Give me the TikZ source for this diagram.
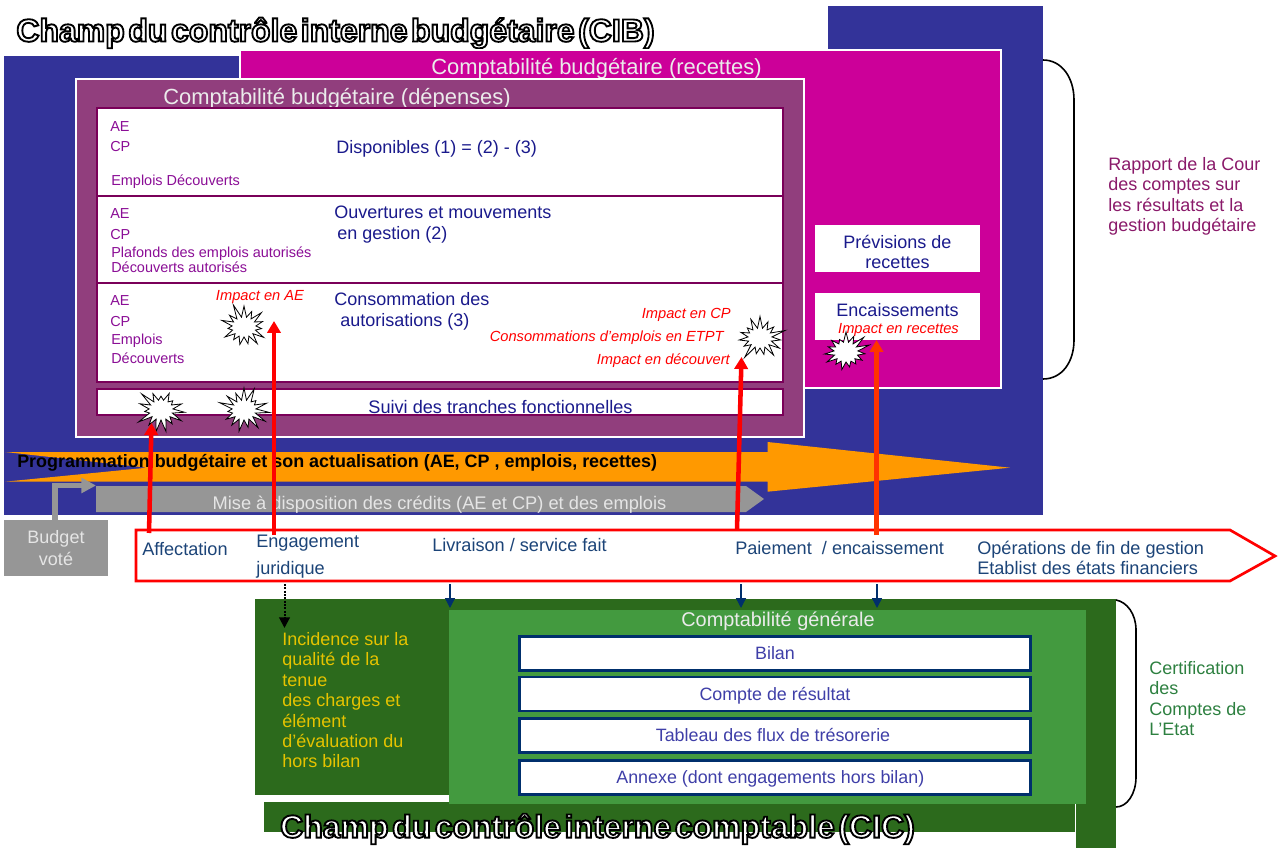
\documentclass[tikz,border=0pt]{standalone}
\usepackage{fontspec}
\setmainfont{Liberation Sans}
\newfontfamily\titlefont[WordSpace=0.4]{Liberation Sans}
\usetikzlibrary{arrows.meta, shapes.symbols}
\definecolor{cibblue}{RGB}{51, 51, 153}
\definecolor{recmagenta}{RGB}{204, 0, 153}
\definecolor{depplum}{RGB}{145, 62, 125}
\definecolor{rowplum}{RGB}{122, 0, 89}
\definecolor{labelpurple}{RGB}{139, 14, 150}
\definecolor{navytxt}{RGB}{26, 26, 140}
\definecolor{flowtxt}{RGB}{28, 68, 120}
\definecolor{progorange}{RGB}{255, 153, 0}
\definecolor{dispgrey}{RGB}{150, 150, 150}
\definecolor{cicdark}{RGB}{44, 106, 28}
\definecolor{ciclight}{RGB}{67, 154, 63}
\definecolor{tabnavy}{RGB}{0, 47, 108}
\definecolor{tabtxt}{RGB}{63, 63, 168}
\definecolor{incyellow}{RGB}{230, 195, 0}
\definecolor{rapporttxt}{RGB}{138, 26, 106}
\definecolor{certtxt}{RGB}{45, 128, 64}
\definecolor{encred}{RGB}{255, 51, 0}
\newcommand{\sized}[1]{\fontsize{#1}{#1}\selectfont}
\newcommand{\outlined}[1]{\special{pdf:code q 2 Tr 1.4 w 0 0 0 RG 1 1 1 rg}#1\special{pdf:code Q}}
\tikzset{
  txt/.style={inner sep=0pt, text height=.92em, text depth=0pt},
  wtxt/.style={txt, anchor=west},
  sidetxt/.style={inner sep=0pt, anchor=north west, align=left, font=\sized{13.5}\linespread{1.135}\selectfont},
  alabel/.style={wtxt, text height=.8em, text=labelpurple, font=\sized{10.85}},
  dtxt/.style={wtxt, text=navytxt, font=\sized{13.5}},
  impact/.style={txt, text=red, font=\sized{11}\itshape},
  flow/.style={wtxt, text=flowtxt, font=\sized{13.6}},
  headtxt/.style={txt, text=white!92!black, font=\sized{16.45}},
  rowbox/.style={draw=rowplum, line width=1.5pt, fill=white},
  tabbox/.style={draw=tabnavy, line width=1.9pt, fill=white, inner sep=0pt, minimum width=383pt, minimum height=25.5pt, text height=.92em, text depth=0pt, text=tabtxt, font=\sized{13.4}},
  burst/.style={starburst, starburst points=15, starburst point height=11pt, random starburst=#1, draw=black, fill=white, line width=.6pt, inner sep=0pt, minimum width=40pt, minimum height=37pt},
  upred/.style={red, line width=3.4pt, -{Triangle[width=10pt, length=9pt]}},
  downblue/.style={tabnavy, line width=1.1pt, -{Triangle[width=7.5pt, length=7.5pt]}},
  bracket/.style={black, line width=1.2pt},
  titletxt/.style={inner sep=0pt, font=\titlefont\sized{24}\bfseries}
}

\begin{document}
\begin{tikzpicture}[x=0.75pt, y=-0.75pt]
  \useasboundingbox (0, 0) rectangle (1278, 848);

  % Champ CIB
  \fill[cibblue] (4, 56) rectangle (1043, 515);
  \fill[cibblue] (828, 6) rectangle (1043, 56);
  \node[titletxt] (titlecib) at (335.5, 33) {\outlined{Champ du contrôle interne budgétaire (CIB)}};

  % Recettes
  \draw[fill=recmagenta, draw=white, line width=1.5pt] (240, 50.5) rectangle (1001, 388);
  \node[headtxt] (headrec) at (596.5, 68) {Comptabilité budgétaire (recettes)};
  \fill[white] (815, 225) rectangle (980, 272);
  \node[txt, text=navytxt, font=\sized{13.5}] (previsions) at (897.5, 242) {Prévisions de};
  \node[txt, text=navytxt, font=\sized{13.5}] (recettes) at (897.5, 262) {recettes};
  \fill[white] (815, 293) rectangle (980, 340);
  \node[txt, text=navytxt, font=\sized{13.5}] (encaissements) at (897.5, 310) {Encaissements};
  \node[impact] (impactrec) at (898.5, 327) {Impact en recettes};
  \node[burst=31] (burste) at (846, 352) {};

  % Depenses
  \draw[fill=depplum, draw=white, line width=1.5pt] (76, 79) rectangle (803.5, 437);
  \node[headtxt] (headdep) at (337, 98) {Comptabilité budgétaire (dépenses)};
  \draw[rowbox] (97, 108) rectangle (783, 196);
  \draw[rowbox] (97, 196) rectangle (783, 283);
  \draw[rowbox] (97, 283) rectangle (783, 382);
  \draw[rowbox] (97, 389) rectangle (783, 415);

  \node[alabel] (aeone) at (110, 126) {AE};
  \node[alabel] (cpone) at (110, 146) {CP};
  \node[alabel] (emploisone) at (111, 180) {Emplois Découverts};
  \node[dtxt] (disponibles) at (336, 147) {Disponibles (1) = (2) - (3)};

  \node[alabel] (aetwo) at (110, 213) {AE};
  \node[alabel] (cptwo) at (110, 234) {CP};
  \node[alabel] (plafonds) at (111, 252) {Plafonds des emplois autorisés};
  \node[alabel] (decouvtwo) at (111, 267) {Découverts autorisés};
  \node[dtxt] (ouvertures) at (334, 212) {Ouvertures et mouvements};
  \node[dtxt] (engestion) at (337, 233) {en gestion (2)};

  \node[alabel] (aethree) at (110, 300) {AE};
  \node[alabel] (cpthree) at (110, 321) {CP};
  \node[alabel] (emploisthree) at (111, 339) {Emplois};
  \node[alabel] (decouvthree) at (111, 358) {Découverts};
  \node[dtxt] (consommation) at (334, 299) {Consommation des};
  \node[dtxt] (autorisations) at (340, 320) {autorisations (3)};

  \node[impact] (impactae) at (260, 294) {Impact en AE};
  \node[impact, anchor=east] (impactcp) at (731, 312) {Impact en CP};
  \node[impact, anchor=east] (impactetpt) at (724, 335) {Consommations d’emplois en ETPT};
  \node[impact, anchor=east] (impactdec) at (730, 358) {Impact en découvert};

  \node[txt, text=navytxt, font=\sized{13.6}] (suivi) at (500.5, 407) {Suivi des tranches fonctionnelles};

  \node[burst=11] (burstb) at (244, 327) {};
  \node[burst=23] (bursta) at (161, 410) {};
  \node[burst=37] (burstc) at (244, 410) {};
  \node[burst=47] (burstd) at (760, 338) {};

  % Programmation et mise a disposition
  \fill[progorange] (5, 452) -- (767.5, 452) -- (767.5, 442) -- (1010, 467.7)
    -- (767.5, 491.7) -- (767.5, 481.7) -- (5, 481.7) -- (147, 467.7) -- cycle;
  \node[wtxt, text=black, font=\sized{13.45}\bfseries] (programmation) at (17, 461)
    {Programmation budgétaire et son actualisation (AE, CP , emplois, recettes)};
  \fill[dispgrey] (96, 486) -- (746, 486) -- (764, 499) -- (746, 512) -- (96, 512) -- cycle;
  \node[txt, text=white!90!black, font=\sized{13.7}] (mise) at (439.5, 503)
    {Mise à disposition des crédits (AE et CP) et des emplois};

  % Budget vote
  \node[fill=dispgrey, inner sep=0pt, minimum width=78pt, minimum height=42pt, align=center,
    text=white!90!black, font=\sized{13.5}] (budget) at (56, 548) {Budget\\[3pt]voté};
  \coordinate (misestart) at (96, 485.5);
  \draw[dispgrey, line width=4pt, -{Triangle[width=11pt, length=11pt]}]
    (budget.north -| 55, 520) |- (misestart);

  % Chaine de la depense
  \draw[red, line width=2pt, fill=white] (136, 530) -- (1230, 530) -- (1275, 556)
    -- (1230, 581) -- (136, 581) -- cycle;
  \node[flow] (affectation) at (142, 549) {Affectation};
  \node[flow] (engagement) at (256, 541) {Engagement};
  \node[flow] (juridique) at (256, 568) {juridique};
  \node[flow] (livraison) at (432, 545) {Livraison / service fait};
  \node[flow] (paiement) at (735, 548) {Paiement \ / encaissement};
  \node[flow] (operations) at (977, 548) {Opérations de fin de gestion};
  \node[flow] (etablist) at (977, 568) {Etablist des états financiers};

  % Champ CIC
  \fill[cicdark] (255, 599) rectangle (1116, 795);
  \fill[cicdark] (264, 802) rectangle (1075, 832);
  \fill[cicdark] (1076, 795) rectangle (1116, 848);
  \fill[ciclight] (449, 610) rectangle (1086, 803.5);
  \node[headtxt, font=\sized{14.9}] (headgen) at (778, 620) {Comptabilité générale};
  \node[tabbox] (bilan) at (775, 653.5) {Bilan};
  \node[tabbox] (compte) at (775, 694) {Compte de résultat};
  \node[tabbox] (tableau) at (775, 735.5) {Tableau des flux de trésorerie\rule{3pt}{0pt}};
  \node[tabbox] (annexe) at (775, 777.5) {Annexe (dont engagements hors bilan)\rule{7pt}{0pt}};
  \node[sidetxt, text=incyellow] (incidence) at (282, 632)
    {Incidence sur la\\qualité de la\\tenue\\des charges et\\élément\\d'évaluation du\\hors bilan};
  \node[titletxt] (titlecic) at (597.5, 829) {\outlined{Champ du contrôle interne comptable (CIC)}};

  % Textes lateraux
  \node[sidetxt, text=rapporttxt] (rapport) at (1108, 157)
    {Rapport de la Cour\\des comptes sur\\les résultats et la\\gestion budgétaire};
  \node[sidetxt, text=certtxt] (certification) at (1149, 661)
    {Certification\\des\\Comptes de\\L’Etat};

  % Accolades
  \coordinate (rapporttop) at (1043, 60);
  \coordinate (rapportbot) at (1043, 379);
  \coordinate (certtop) at (1116, 600);
  \coordinate (certbot) at (1116, 807);
  \draw[bracket] (rapporttop) .. controls (1062, 60) and (1074, 78) .. (1074, 100)
    -- (1074, 340) .. controls (1074, 362) and (1062, 379) .. (rapportbot);
  \draw[bracket] (certtop) .. controls (1127, 602) and (1136, 614) .. (1136, 630)
    -- (1136, 777) .. controls (1136, 794) and (1127, 807) .. (certbot);

  % Fleches d'impact
  \coordinate (affectfrom) at (149, 533);
  \coordinate (affectto) at (151.5, 423);
  \coordinate (engagefrom) at (274, 535);
  \coordinate (engageto) at (274, 321);
  \coordinate (paiefrom) at (737, 530);
  \coordinate (paieto) at (741.5, 357);
  \coordinate (encfrom) at (876.5, 535);
  \coordinate (encto) at (876.5, 340);
  \draw[upred] (affectfrom) -- (affectto);
  \draw[upred] (engagefrom) -- (engageto);
  \draw[upred] (paiefrom) -- (paieto);
  \draw[upred, encred] (encfrom) -- (encto);

  % Fleches vers la comptabilite generale
  \coordinate (livfrom) at (450, 584);
  \coordinate (livto) at (450, 608);
  \coordinate (paydownfrom) at (741, 584);
  \coordinate (paydownto) at (741, 608);
  \coordinate (encdownfrom) at (877, 584);
  \coordinate (encdownto) at (877, 608);
  \coordinate (incfrom) at (284.5, 584);
  \coordinate (incto) at (284.5, 628);
  \draw[downblue] (livfrom) -- (livto);
  \draw[downblue] (paydownfrom) -- (paydownto);
  \draw[downblue] (encdownfrom) -- (encdownto);
  \draw[black, line width=1.5pt, densely dotted, -{Triangle[width=8pt, length=8pt]}] (incfrom) -- (incto);
\end{tikzpicture}
\end{document}
